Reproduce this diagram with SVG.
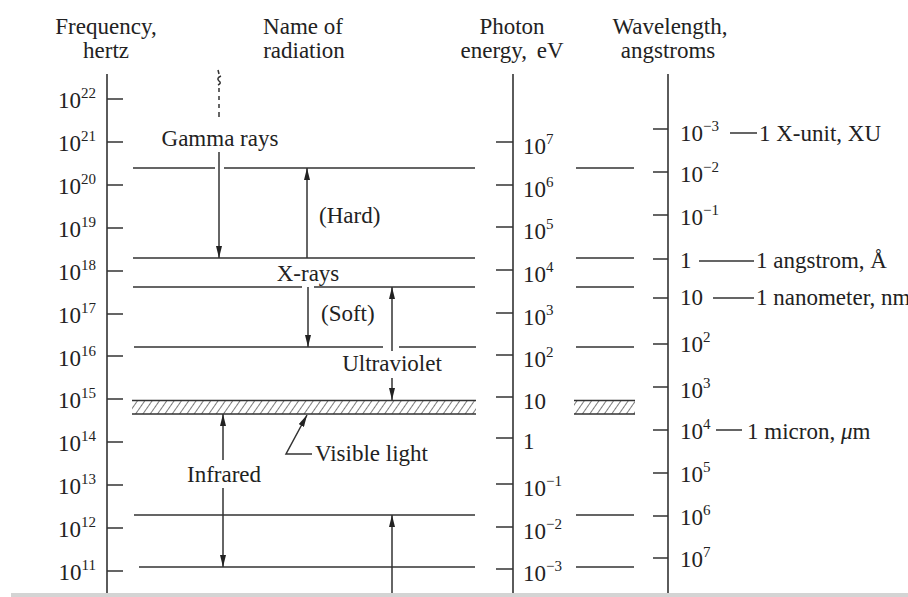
<svg xmlns="http://www.w3.org/2000/svg" width="908" height="597" viewBox="0 0 908 597">
<style>
text{font-family:"Liberation Serif","Times New Roman",serif;font-size:23px;fill:#222}
.sup{font-size:15px}
.ln{stroke:#333;stroke-width:1.5;fill:none}
.ax{stroke:#333;stroke-width:1.6;fill:none}
.arr{stroke:#333;stroke-width:1.5;fill:none;marker-end:url(#ah)}
</style>
<defs>
<marker id="ah" viewBox="0 0 12 6" refX="12" refY="3" markerWidth="12" markerHeight="6" markerUnits="userSpaceOnUse" orient="auto">
<path d="M0,0 L12,3 L0,6 z" fill="#222"/>
</marker>
<pattern id="hatch" patternUnits="userSpaceOnUse" width="6" height="6" patternTransform="rotate(35)">
<line x1="0" y1="-1" x2="0" y2="7" stroke="#333" stroke-width="1.3"/>
</pattern>
</defs>
<rect width="908" height="597" fill="#fff"/>

<g id="headers">
<text x="106" y="34" text-anchor="middle">Frequency,</text>
<text x="106" y="58" text-anchor="middle">hertz</text>
<text x="303" y="34" text-anchor="middle">Name of</text>
<text x="304" y="58" text-anchor="middle">radiation</text>
<text x="512" y="34" text-anchor="middle">Photon</text>
<text x="512" y="58" text-anchor="middle">energy, <tspan dx="4">eV</tspan></text>
<text x="670" y="34" text-anchor="middle">Wavelength,</text>
<text x="668" y="58" text-anchor="middle">angstroms</text>
</g>

<g id="frequency-axis">
<line class="ax" x1="107" y1="74" x2="107" y2="594"/>
<path class="ln" d="M107,99H123M107,142H123M107,185H123M107,228H123M107,271H123M107,314H123M107,356H123M107,399H123M107,442H123M107,485H123M107,528H123M107,571H123"/>
<g text-anchor="end">
<text x="96" y="108">10<tspan class="sup" dy="-10">22</tspan></text>
<text x="96" y="151">10<tspan class="sup" dy="-10">21</tspan></text>
<text x="96" y="194">10<tspan class="sup" dy="-10">20</tspan></text>
<text x="96" y="237">10<tspan class="sup" dy="-10">19</tspan></text>
<text x="96" y="280">10<tspan class="sup" dy="-10">18</tspan></text>
<text x="96" y="323">10<tspan class="sup" dy="-10">17</tspan></text>
<text x="96" y="366">10<tspan class="sup" dy="-10">16</tspan></text>
<text x="96" y="408">10<tspan class="sup" dy="-10">15</tspan></text>
<text x="96" y="451">10<tspan class="sup" dy="-10">14</tspan></text>
<text x="96" y="494">10<tspan class="sup" dy="-10">13</tspan></text>
<text x="96" y="537">10<tspan class="sup" dy="-10">12</tspan></text>
<text x="96" y="580">10<tspan class="sup" dy="-10">11</tspan></text>
</g>
</g>

<g id="photon-axis">
<line class="ax" x1="513" y1="74" x2="513" y2="594"/>
<path class="ln" d="M496,142H513M496,185H513M496,227H513M496,270H513M496,313H513M496,355H513M496,397H513M496,438H513M496,484H513M496,527H513M496,569H513"/>
<text x="523" y="154">10<tspan class="sup" dy="-10">7</tspan></text>
<text x="523" y="197">10<tspan class="sup" dy="-10">6</tspan></text>
<text x="523" y="239">10<tspan class="sup" dy="-10">5</tspan></text>
<text x="523" y="282">10<tspan class="sup" dy="-10">4</tspan></text>
<text x="523" y="325">10<tspan class="sup" dy="-10">3</tspan></text>
<text x="523" y="367">10<tspan class="sup" dy="-10">2</tspan></text>
<text x="523" y="409">10</text>
<text x="523" y="449">1</text>
<text x="523" y="496">10<tspan class="sup" dy="-10">−1</tspan></text>
<text x="523" y="539">10<tspan class="sup" dy="-10">−2</tspan></text>
<text x="523" y="581">10<tspan class="sup" dy="-10">−3</tspan></text>
</g>

<g id="wavelength-axis">
<line class="ax" x1="668" y1="74" x2="668" y2="594"/>
<path class="ln" d="M653,129H668M653,172H668M653,215H668M653,259H668M653,298H668M653,344H668M653,387H668M653,430H668M653,473H668M653,516H668M653,558H668"/>
<text x="680" y="141">10<tspan class="sup" dy="-10">−3</tspan></text>
<text x="680" y="182">10<tspan class="sup" dy="-10">−2</tspan></text>
<text x="680" y="225">10<tspan class="sup" dy="-10">−1</tspan></text>
<text x="680" y="268">1</text>
<text x="680" y="305">10</text>
<text x="680" y="352">10<tspan class="sup" dy="-10">2</tspan></text>
<text x="680" y="398">10<tspan class="sup" dy="-10">3</tspan></text>
<text x="680" y="439">10<tspan class="sup" dy="-10">4</tspan></text>
<text x="680" y="482">10<tspan class="sup" dy="-10">5</tspan></text>
<text x="680" y="525">10<tspan class="sup" dy="-10">6</tspan></text>
<text x="680" y="567">10<tspan class="sup" dy="-10">7</tspan></text>
<path class="ln" d="M730,133H757M699,261H754M713,298H754M716,430H742"/>
<text x="759" y="141">1 X-unit, XU</text>
<text x="756" y="268">1 angstrom, Å</text>
<text x="756" y="305">1 nanometer, nm</text>
<text x="747" y="439">1 micron, <tspan font-style="italic">μ</tspan>m</text>
</g>

<g id="boundaries">
<path class="ln" d="M133,168H215M224,168H475M576,168H634"/>
<path class="ln" d="M133,258H475M576,258H634"/>
<path class="ln" d="M133,287H302M314,287H475M576,287H634"/>
<path class="ln" d="M134,347H383M399,347H476M576,347H634"/>
<path class="ln" d="M134,515H475M576,515H634"/>
<path class="ln" d="M139,567H475M576,567H634"/>
</g>

<g id="visible-band">
<rect x="132" y="400.5" width="344" height="13.5" fill="url(#hatch)"/>
<path class="ln" d="M132,400.5H476M132,414H476"/>
<rect x="574" y="400.5" width="61" height="13.5" fill="url(#hatch)"/>
<path class="ln" d="M574,400.5H635M574,414H635"/>
</g>

<g id="labels">
<text x="220" y="146" text-anchor="middle">Gamma rays</text>
<text x="319" y="223">(Hard)</text>
<text x="308" y="281" text-anchor="middle">X-rays</text>
<text x="321" y="321">(Soft)</text>
<text x="392" y="371" text-anchor="middle">Ultraviolet</text>
<text x="224" y="482" text-anchor="middle">Infrared</text>
<text x="315" y="461">Visible light</text>
</g>

<g id="connectors">
<path class="ln" d="M219,88V92M219,96V100M219,104V108M219,112V117" stroke-width="1.4"/>
<path class="ln" d="M218,70L219,74M221,76Q216,78 219,81Q222,83 218,85" stroke-width="1.4"/>
<line class="arr" x1="219" y1="152" x2="219" y2="258"/>
<line class="arr" x1="307" y1="258" x2="307" y2="168"/>
<line class="arr" x1="308" y1="287" x2="308" y2="347"/>
<line class="arr" x1="392" y1="351" x2="392" y2="287"/>
<line class="arr" x1="392" y1="378" x2="392" y2="400"/>
<line class="arr" x1="223" y1="460" x2="223" y2="414"/>
<line class="arr" x1="223" y1="488" x2="223" y2="567"/>
<line class="arr" x1="392" y1="594" x2="392" y2="515"/>
<path class="ln" d="M312,454H286L307,415" style="marker-end:url(#ah)" stroke-width="1.2"/>
</g>

<rect x="11" y="593" width="897" height="4" fill="#d4d4d4"/>
</svg>
